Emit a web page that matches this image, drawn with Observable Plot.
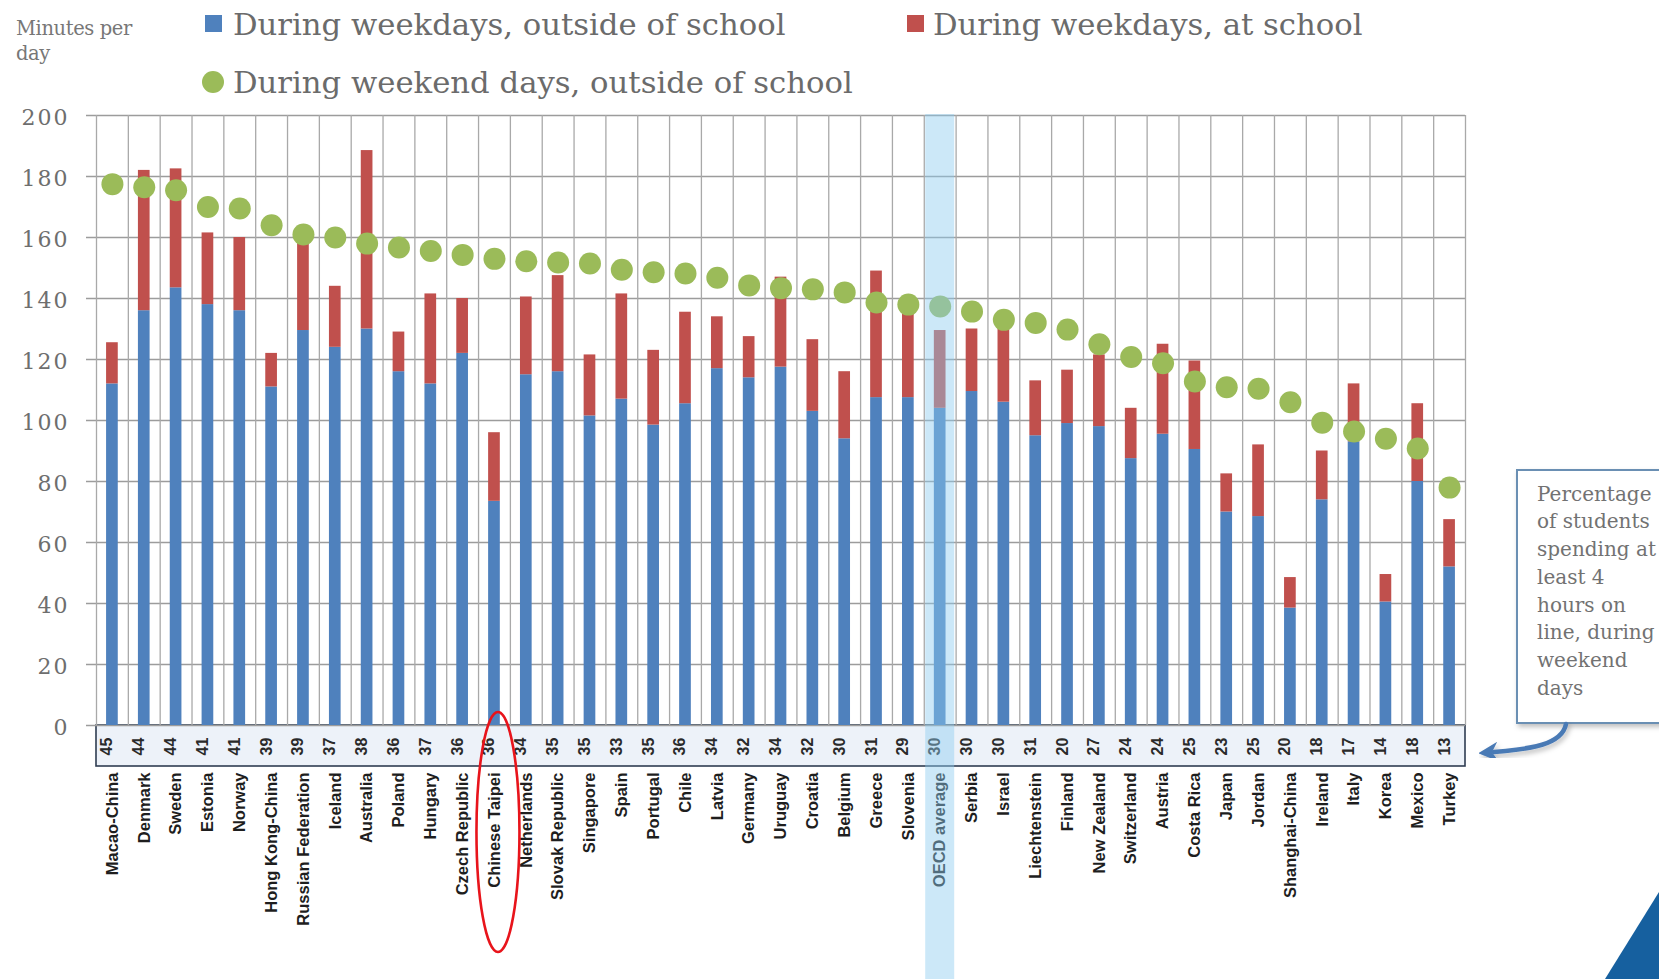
<!DOCTYPE html>
<html>
<head>
<meta charset="utf-8">
<script src="https://cdn.jsdelivr.net/npm/d3@7"></script>
<script src="https://cdn.jsdelivr.net/npm/@observablehq/plot@0.6"></script>
<style>
  body { margin: 0; background: #fff; }
  #wrap { position: relative; width: 1659px; height: 979px; overflow: hidden; background: #fff; }
  #wrap > svg { position: absolute; left: 0; top: 0; }
</style>
</head>
<body>
<div id="wrap"></div>
<script>
// ---------- data ----------
const countries = ["Macao-China","Denmark","Sweden","Estonia","Norway","Hong Kong-China","Russian Federation","Iceland","Australia","Poland","Hungary","Czech Republic","Chinese Taipei","Netherlands","Slovak Republic","Singapore","Spain","Portugal","Chile","Latvia","Germany","Uruguay","Croatia","Belgium","Greece","Slovenia","OECD average","Serbia","Israel","Liechtenstein","Finland","New Zealand","Switzerland","Austria","Costa Rica","Japan","Jordan","Shanghai-China","Ireland","Italy","Korea","Mexico","Turkey"];
// During weekdays, outside of school (minutes per day)
const weekdayOutside = [112,136,143.5,138,136,111,129.5,124,130,116,112,122,73.5,115,116,101.5,107,98.5,105.5,117,114,117.5,103,94,107.5,107.5,104,109.5,106,95,99,98,87.5,95.5,90.5,70,68.5,38.5,74,93,40.5,80,52];
// During weekdays, at school (minutes per day, stacked on top)
const weekdayAtSchool = [13.5,46,39,23.5,24,11,28.5,20,58.5,13,29.5,18,22.5,25.5,31.5,20,34.5,24.5,30,17,13.5,29.5,23.5,22,41.5,29.5,25.5,20.5,25,18,17.5,23.5,16.5,29.5,29,12.5,23.5,10,16,19,9,25.5,15.5];
// During weekend days, outside of school (minutes per day)
const weekendOutside = [177.5,176.5,175.5,170,169.5,164,161,160,158,156.7,155.6,154.3,153,152.2,151.8,151.5,149.4,148.6,148.2,146.8,144.3,143.4,143,142,138.7,138,137.4,135.7,133,132,129.8,125,120.8,118.8,112.8,110.9,110.4,106,99.3,96.4,94,90.8,78];
// Percentage of students spending at least 4 hours on line, during weekend days
const pctFourHours = [45,44,44,41,41,39,39,37,38,36,37,36,36,34,35,35,33,35,36,34,32,34,32,30,31,29,30,30,30,31,20,27,24,24,25,23,25,20,18,17,14,18,13];
const yTicks = [0,20,40,60,80,100,120,140,160,180,200];
const seriesNames = ["During weekdays, outside of school","During weekdays, at school","During weekend days, outside of school"];
const seriesColors = ["#4F81BD","#C0504D","#9BBB59"];
const noteLines = ["Percentage","of students","spending at","least 4","hours on","line, during","weekend","days"];

// ---------- tables built from the arrays ----------
const stacked = countries.flatMap((c, i) => [
  {country: c, series: seriesNames[0], value: weekdayOutside[i]},
  {country: c, series: seriesNames[1], value: weekdayAtSchool[i]}
]);
const perCountry = countries.map((c, i) => ({country: c, weekend: weekendOutside[i], pct: pctFourHours[i]}));

// ---------- layout ----------
const W = 1659, H = 979;
const mL = 96, mR = W - 1465, mT = 115, mB = H - 725;
const step = (W - mL - mR) / countries.length;
const serif = "DejaVu Serif, Georgia, serif";
const sans = "Liberation Sans, Arial, sans-serif";

const wrap = document.getElementById("wrap");

// underlay (data table box)
const under = d3.select(wrap).append("svg").attr("width", W).attr("height", H);

const plot = Plot.plot({
  width: W, height: H,
  marginLeft: mL, marginRight: mR, marginTop: mT, marginBottom: mB,
  style: {background: "transparent", overflow: "visible"},
  x: {domain: countries, paddingInner: 0.633, paddingOuter: 0.3165, round: false},
  y: {domain: [0, 200]},
  color: {domain: seriesNames.slice(0, 2), range: seriesColors.slice(0, 2)},
  marks: [
    Plot.ruleY(yTicks, {stroke: "#9c9c9c", strokeWidth: 1.3, insetLeft: -10}),
    Plot.ruleX(countries, {x: d => d, dx: -step / 2, y1: 0, y2: 200, stroke: "#a9a9a9", strokeWidth: 1.3}),
    Plot.ruleX(countries.slice(-1), {x: d => d, dx: step / 2, y1: 0, y2: 200, stroke: "#a9a9a9", strokeWidth: 1.3}),
    Plot.barY(stacked, {x: "country", y: "value", fill: "series", order: seriesNames.slice(0, 2)}),
    Plot.dot(perCountry, {x: "country", y: "weekend", r: 11, fill: seriesColors[2], stroke: "none"}),
    Plot.axisY({ticks: yTicks, tickSize: 0, tickPadding: 27, dy: 2, fontFamily: serif, fontSize: 22, fill: "#6e6e6e", tickFormat: d => d}),
    Plot.axisX({tickSize: 0, tickPadding: 47, tickRotate: -90, fontFamily: sans, fontWeight: "bold", fontSize: 16.5, fill: "#1e1e1e", label: null}),
    Plot.text(perCountry, {x: "country", text: d => String(d.pct), frameAnchor: "bottom", dy: 21, rotate: -90,
      fontFamily: sans, fontWeight: "bold", fontSize: 16, fill: "#2a2a2a"})
  ]
});
wrap.appendChild(plot);
plot.querySelectorAll('[aria-label="y-axis tick label"] text').forEach(t => t.setAttribute("letter-spacing", "2"));

const xs = plot.scale("x");
const cx = c => xs.apply(c) + xs.bandwidth / 2;

// data table box under the percentages
under.append("rect")
  .attr("x", mL).attr("y", 725).attr("width", W - mL - mR).attr("height", 41)
  .attr("fill", "#edf2f9").attr("stroke", "#2f3d52").attr("stroke-width", 1.6);

// ---------- overlay ----------
const over = d3.select(wrap).append("svg").attr("width", W).attr("height", H).style("pointer-events", "none");
const defs = over.append("defs");
const sh = defs.append("filter").attr("id", "sh").attr("x", "-20%").attr("y", "-20%").attr("width", "140%").attr("height", "140%");
sh.append("feDropShadow").attr("dx", 2).attr("dy", 3).attr("stdDeviation", 2.5).attr("flood-color", "#000").attr("flood-opacity", 0.25);
defs.append("marker").attr("id", "ah").attr("viewBox", "0 0 10 10").attr("refX", 2).attr("refY", 5)
  .attr("markerWidth", 4.4).attr("markerHeight", 4.4).attr("orient", "auto")
  .append("path").attr("d", "M0,5 L10,0 L7,5 L10,10 Z").attr("fill", "#4a7ab5")
  .attr("transform", "rotate(180 5 5)");

// OECD average highlight
over.append("rect")
  .attr("x", cx("OECD average") - 14.5).attr("y", mT - 1).attr("width", 29).attr("height", H - mT + 1)
  .attr("fill", "#8ecbf0").attr("fill-opacity", 0.45);

// Chinese Taipei ellipse
over.append("ellipse")
  .attr("cx", cx("Chinese Taipei") + 4).attr("cy", 832).attr("rx", 21.5).attr("ry", 120)
  .attr("fill", "none").attr("stroke", "#e8141b").attr("stroke-width", 2.6);

// legend
const lg = over.append("g").attr("font-family", serif).attr("font-size", 30.7).attr("fill", "#6b6b6b");
lg.append("rect").attr("x", 205).attr("y", 15).attr("width", 17).attr("height", 17).attr("fill", seriesColors[0]);
lg.append("text").attr("x", 233).attr("y", 35).text(seriesNames[0]);
lg.append("rect").attr("x", 907).attr("y", 15).attr("width", 17).attr("height", 17).attr("fill", seriesColors[1]);
lg.append("text").attr("x", 933).attr("y", 35).text(seriesNames[1]);
lg.append("circle").attr("cx", 213).attr("cy", 82).attr("r", 11).attr("fill", seriesColors[2]);
lg.append("text").attr("x", 233).attr("y", 93).text(seriesNames[2]);

// y unit label
const ul = over.append("g").attr("font-family", serif).attr("font-size", 19.5).attr("fill", "#777").attr("letter-spacing", -0.4);
ul.append("text").attr("x", 16).attr("y", 35).text("Minutes per");
ul.append("text").attr("x", 16).attr("y", 60).text("day");

// annotation box + arrow
over.append("rect").attr("x", 1517).attr("y", 470).attr("width", 180).attr("height", 253)
  .attr("fill", "#fff").attr("stroke", "#6a8fb3").attr("stroke-width", 2).attr("filter", "url(#sh)");
const nt = over.append("g").attr("font-family", serif).attr("font-size", 20).attr("fill", "#727272");
noteLines.forEach((s, i) => nt.append("text").attr("x", 1537).attr("y", 500.5 + i * 27.75).text(s));
over.append("path").attr("d", "M1566,724 C1562,745 1530,749 1494,752")
  .attr("fill", "none").attr("stroke", "#4a7ab5").attr("stroke-width", 4.5).attr("stroke-linecap", "round")
  .attr("marker-end", "url(#ah)").attr("filter", "url(#sh)");

// corner decoration
over.append("polygon").attr("points", "1605,979 1659,892 1659,979").attr("fill", "#16609f");
</script>
</body>
</html>
